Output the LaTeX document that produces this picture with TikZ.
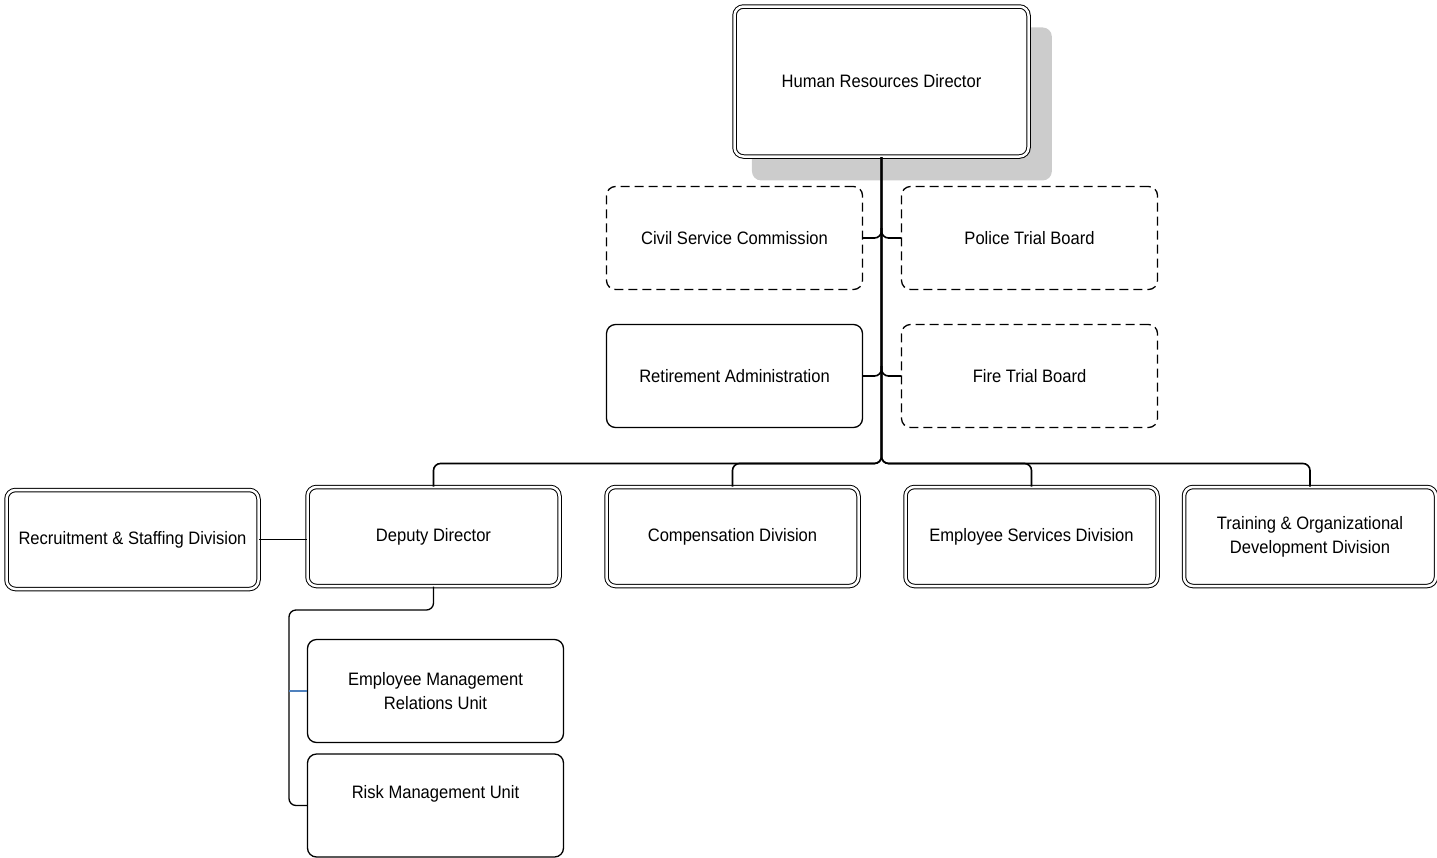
\documentclass[tikz,border=0pt]{standalone}
\usepackage{fontspec}
\setmainfont{Liberation Sans}[FakeStretch=0.92]
\usetikzlibrary{calc,shadows}
\definecolor{linkblue}{RGB}{79,129,189}

\begin{document}
\begin{tikzpicture}[x=1pt,y=-1pt,
    every node/.style={font=\fontsize{18}{24}\selectfont, align=center},
    plainbox/.style={draw, fill=white, line width=1.3pt, rounded corners=9pt, minimum width=256pt, minimum height=103pt, inner sep=0pt},
    dashbox/.style={plainbox, dash pattern=on 9pt off 5pt},
    dblbox/.style={draw, fill=white, line width=1pt, double, double distance=2.5pt, rounded corners=9pt, minimum width=252pt, minimum height=99pt, inner sep=0pt},
    conn/.style={line width=1.6pt, rounded corners=7pt}]
    \useasboundingbox (0,0) rectangle (1437,857);

    % Director
    \node[dblbox, minimum width=294pt, minimum height=150pt,
        drop shadow={shadow xshift=20pt, shadow yshift=-22pt, fill=black!20, opacity=1, shadow scale=1.02}]
        (hrdir) at (881.5,81.5) {Human Resources Director};

    % Boards and commission
    \node[dashbox] (civil) at (734.5,238) {Civil Service Commission};
    \node[dashbox] (police) at (1029.5,238) {Police Trial Board};
    \node[plainbox] (retire) at (734.5,376) {Retirement Administration};
    \node[dashbox] (fire) at (1029.5,376) {Fire Trial Board};

    % Divisions
    \node[dblbox] (recruit) at (132.5,539.5) {Recruitment \& Staffing Division};
    \node[dblbox] (deputy) at (433.5,536.5) {Deputy Director};
    \node[dblbox] (comp) at (732.5,536.5) {Compensation Division};
    \node[dblbox] (empserv) at (1031.5,536.5) {Employee Services Division};
    \node[dblbox] (train) at (1310,536.5) {Training \& Organizational\\Development Division};

    % Units
    \node[plainbox] (emr) at (435.5,691) {Employee Management\\Relations Unit};
    \node[plainbox, text depth=28pt] (risk) at (435.5,805.5) {Risk Management Unit};

    % Side connectors
    \draw[conn] (civil.east) -| ($(hrdir.south |- civil.east)+(0,-10)$);
    \draw[conn] (police.west) -| ($(hrdir.south |- police.west)+(0,-10)$);
    \draw[conn] (retire.east) -| ($(hrdir.south |- retire.east)+(0,-10)$);
    \draw[conn] (fire.west) -| ($(hrdir.south |- fire.west)+(0,-10)$);

    % Bus to divisions
    \draw[conn] (hrdir.south) |- ($(deputy.north)+(0,-23)$) -- (deputy.north);
    \draw[conn] (hrdir.south) |- ($(comp.north)+(0,-23)$) -- (comp.north);
    \draw[conn] (hrdir.south) |- ($(empserv.north)+(0,-23)$) -- (empserv.north);
    \draw[conn] (hrdir.south) |- ($(train.north)+(0,-23)$) -- (train.north);
    \draw[conn] (recruit.east) -- (recruit.east -| deputy.west);

    % Deputy to units
    \coordinate (subbus) at (289,610);
    \draw[conn, line width=1.3pt] (deputy.south) |- (subbus) |- (risk.west);
    \draw[linkblue, line width=1.2pt] (subbus |- emr.west) -- (emr.west);
\end{tikzpicture}
\end{document}
